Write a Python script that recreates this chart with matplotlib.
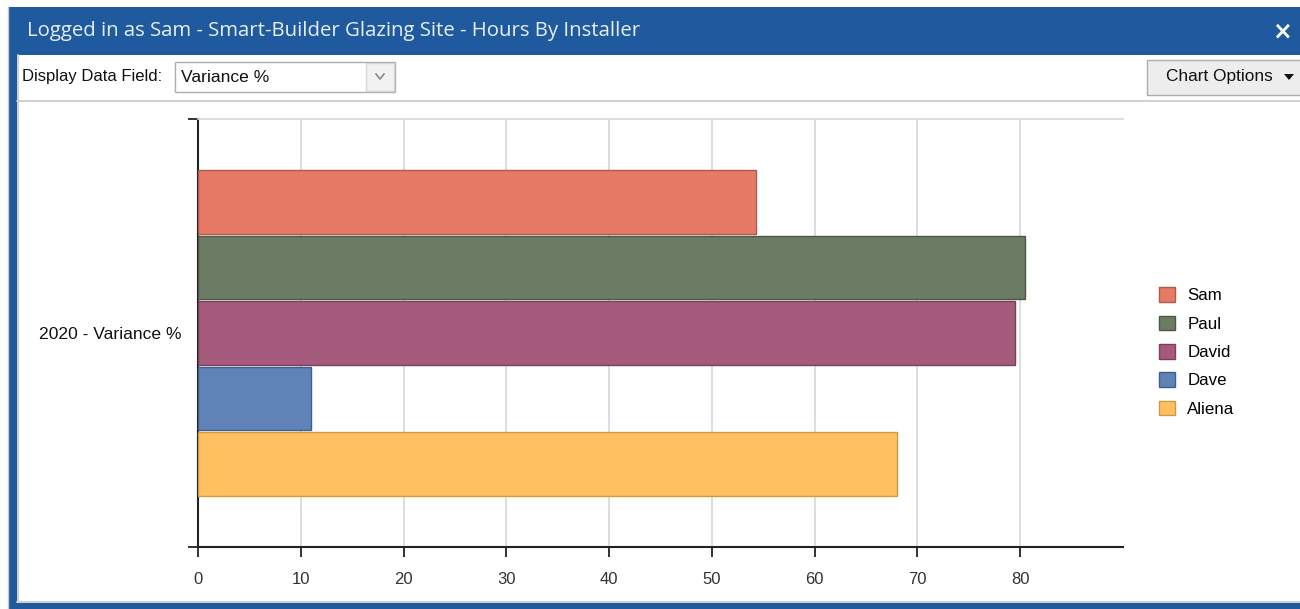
import matplotlib
matplotlib.use("Agg")
import matplotlib.pyplot as plt
from matplotlib.patches import Rectangle, Polygon
from matplotlib.lines import Line2D

W, H = 1300, 609

installers = ["Sam", "Paul", "David", "Dave", "Aliena"]
variance = [54.3, 80.5, 79.5, 11.0, 68.0]
colors = ["#E67A66", "#6C7C64", "#A45A7A", "#5F82B7", "#FFC062"]
edges = ["#B0584A", "#4A5845", "#7A3F5A", "#3F5F8E", "#D39A3F"]
category = "2020 - Variance %"
xticks = [0, 10, 20, 30, 40, 50, 60, 70, 80]

fig = plt.figure(figsize=(W / 100, H / 100), dpi=100)
fig.patch.set_facecolor("white")


def box(x, y, w, h, **kw):
    # rectangle from top-left pixel coords
    r = Rectangle((x / W, 1 - (y + h) / H), w / W, h / H,
                  transform=fig.transFigure, **kw)
    fig.patches.append(r)


def txt(x, y, s, **kw):
    fig.text(x / W, 1 - y / H, s, **kw)


def line(xs, ys, **kw):
    fig.lines.append(Line2D([v / W for v in xs], [1 - v / H for v in ys],
                            transform=fig.transFigure, **kw))


# window frame
box(9, 7, 1291, 48, facecolor="#1F5A9E", edgecolor="none")
box(9, 7, 8, 602, facecolor="#1F5A9E", edgecolor="none")
box(9, 603, 1291, 6, facecolor="#1F5A9E", edgecolor="none")
line([8, 8], [7, 609], color="#c8c8c8", lw=1)
line([17.5, 17.5], [55, 601], color="#c8c8c8", lw=1.2)
line([17, 1300], [601.5, 601.5], color="#c8c8c8", lw=1.2)
txt(27, 31, "Logged in as Sam - Smart-Builder Glazing Site - Hours By Installer",
    color="#E8EEF6", fontsize=14.7, family="Open Sans", va="center")
txt(1282, 31, "\u00d7", color="white", fontsize=17, fontweight="bold",
    ha="center", va="center")

# toolbar
line([17, 1300], [100.5, 100.5], color="#c8c8c8", lw=1.2)
txt(22, 77, "Display Data Field:", fontsize=12, family="Liberation Sans",
    va="center", color="#111111")
box(175, 62, 220, 30, facecolor="white", edgecolor="#ABADB3", lw=1)
box(366, 63, 28, 28, facecolor="#F2F2F2", edgecolor="#D5D5D5", lw=1)
line([376, 380, 384], [74, 79, 74], color="#8a8a8a", lw=1.2)
txt(181, 77, "Variance %", fontsize=12.6, family="Liberation Sans",
    va="center", color="#111111")
box(1147, 60, 160, 35, facecolor="#EDEDED", edgecolor="#ADADAD", lw=1)
txt(1166, 77, "Chart Options", fontsize=12.4, family="Liberation Sans",
    va="center", color="#111111")
fig.patches.append(Polygon([(1284 / W, 1 - 74 / H), (1294 / W, 1 - 74 / H),
                            (1289 / W, 1 - 80 / H)], closed=True,
                           transform=fig.transFigure, facecolor="#111111"))

# chart
ax = fig.add_axes([198 / W, 1 - 547 / H, (1123 - 198) / W, (547 - 119) / H])
h = 0.153
n = len(installers)
for i in range(n):
    ax.barh((n // 2 - i) * h, variance[i], height=h * 0.97, color=colors[i],
            edgecolor=edges[i], lw=1, label=installers[i], zorder=3)

ax.set_xlim(0, 90)
ax.set_ylim(-0.5, 0.5)
ax.set_xticks(xticks)
ax.set_xticklabels([str(v) for v in xticks])
ax.set_yticks([0])
ax.set_yticklabels([category])
ax.set_yticks([-0.5, 0.5], minor=True)
ax.tick_params(axis="y", which="major", length=0, pad=12, labelsize=12.6,
               labelcolor="#111111")
ax.tick_params(axis="y", which="minor", length=7, width=1.3, color="#222222")
ax.tick_params(axis="x", length=7, width=1.3, color="#222222", pad=11,
               labelsize=12, labelcolor="#333333")
for lab in ax.get_xticklabels() + ax.get_yticklabels():
    lab.set_family("Liberation Sans")
ax.grid(axis="x", color="#D8D8D8", lw=1.2, zorder=0)
ax.set_axisbelow(True)
ax.spines["right"].set_visible(False)
ax.spines["top"].set_color("#D8D8D8")
ax.spines["top"].set_linewidth(1.2)
ax.spines["left"].set_linewidth(1.5)
ax.spines["bottom"].set_linewidth(1.5)
ax.spines["left"].set_color("#222222")
ax.spines["bottom"].set_color("#222222")

fig.legend(loc="center left", bbox_to_anchor=(1144 / W, 1 - 352 / H),
           frameon=False, prop={"family": "Liberation Sans", "size": 12.2},
           handlelength=0.95, handleheight=0.95, labelspacing=0.72,
           handletextpad=0.7)

fig.savefig("out.png", dpi=100, facecolor="white")
